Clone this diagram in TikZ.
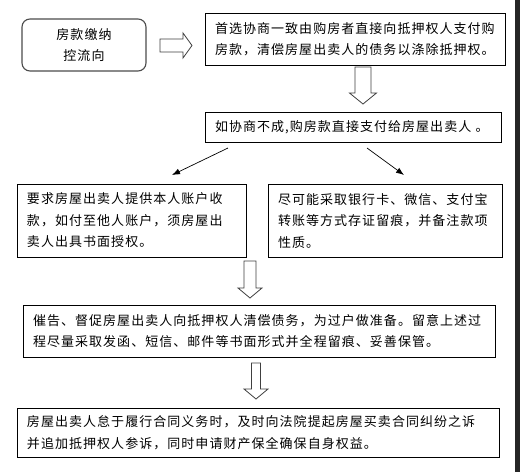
\documentclass[tikz,border=0pt]{standalone}
\usepackage{fontspec}
\newfontfamily\cjk[LetterSpace=8]{Noto Sans CJK SC}
\usetikzlibrary{calc,arrows.meta}
\newcommand\hollowarrow[5]{%
  \coordinate (hah) at ($(#2)!#5!(#1)$);
  \draw[hollow] ($(#1)!#3!90:(#2)$) -- ($(hah)!#3!90:(#2)$) -- ($(hah)!#4!90:(#2)$)
    -- (#2) -- ($(hah)!#4!-90:(#2)$) -- ($(hah)!#3!-90:(#2)$) -- ($(#1)!#3!-90:(#2)$) -- cycle;
}
\begin{document}
\begin{tikzpicture}[x=1pt,y=-1pt,
  box/.style={draw=black, line width=0.9pt, inner xsep=10pt, inner ysep=0pt,
    font=\cjk\fontsize{13}{21.5}\selectfont, align=left, anchor=center},
  rbox/.style={draw=black!70, line width=1.1pt, rounded corners=8pt, inner sep=0pt,
    font=\cjk\fontsize{13}{20.5}\selectfont, align=center, anchor=center},
  hollow/.style={draw=black!75, line width=0.8pt, fill=white, line join=miter},
  diag/.style={-{Latex[length=8pt,width=6pt]}, line width=0.7pt, draw=black}]
\useasboundingbox (0,0) rectangle (520,472);
\fill[white] (0,0) rectangle (520,472);
\fill[black!85] (514.5,0) rectangle (520,472);

\node[rbox, minimum width=124pt, minimum height=52pt] (b1) at (84,45) {房款缴纳\\控流向};
\node[box, minimum width=300pt, minimum height=52pt, text width=280pt] (b2) at (355,39)
  {首选协商一致由购房者直接向抵押权人支付购\\房款，清偿房屋出卖人的债务以涤除抵押权。};
\node[box, minimum width=296pt, minimum height=30pt, text width=276pt] (b3) at (353,127)
  {如协商不成,购房款直接支付给房屋出卖人 。};
\node[box, minimum width=229pt, minimum height=73pt, text width=209pt] (b4) at (131.5,220.5)
  {要求房屋出卖人提供本人账户收\\款，如付至他人账户，须房屋出\\卖人出具书面授权。};
\node[box, minimum width=234pt, minimum height=73pt, text width=214pt] (b5) at (385,220.5)
  {尽可能采取银行卡、微信、支付宝\\转账等方式存证留痕，并备注款项\\性质。};
\node[box, minimum width=472pt, minimum height=52pt, text width=452pt] (b6) at (259,331)
  {催告、督促房屋出卖人向抵押权人清偿债务，为过户做准备。留意上述过\\程尽量采取发函、短信、邮件等书面形式并全程留痕、妥善保管。};
\node[box, minimum width=482pt, minimum height=49pt, text width=462pt] (b7) at (258,432.5)
  {房屋出卖人怠于履行合同义务时，及时向法院提起房屋买卖合同纠纷之诉\\并追加抵押权人参诉，同时申请财产保全确保自身权益。};

% hollow arrows
\coordinate (a1s) at (160,45.5); \coordinate (a1e) at (192,45.5);
\coordinate (a2s) at (363,67);   \coordinate (a2e) at (363,104);
\coordinate (a3s) at (250,261);  \coordinate (a3e) at (250,298);
\coordinate (a4s) at (256,363);  \coordinate (a4e) at (256,399);
\hollowarrow{a1s}{a1e}{6.5pt}{12.5pt}{9pt}
\hollowarrow{a2s}{a2e}{8pt}{13.5pt}{11pt}
\hollowarrow{a3s}{a3e}{6pt}{12pt}{10pt}
\hollowarrow{a4s}{a4e}{4.5pt}{12pt}{10pt}

% diagonal arrows
\coordinate (d1s) at (228,148); \coordinate (d1e) at (172,175);
\coordinate (d2s) at (367,148); \coordinate (d2e) at (404,175);
\draw[diag] (d1s) -- (d1e);
\draw[diag] (d2s) -- (d2e);
\end{tikzpicture}
\end{document}
